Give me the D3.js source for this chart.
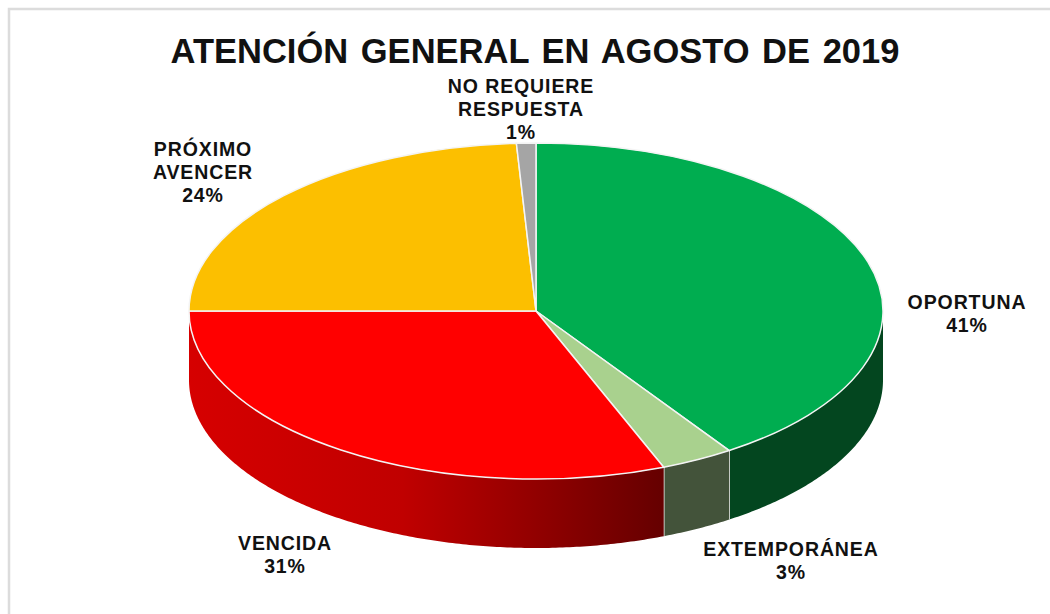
<!DOCTYPE html>
<html lang="es">
<head>
<meta charset="UTF-8">
<title>Atención general en agosto de 2019</title>
<style>
    html, body { margin: 0; padding: 0; background: #fff; }
    svg { display: block; }
    text { font-family: "Liberation Sans", Arial, sans-serif; font-weight: bold; fill: #111; }
</style>
</head>
<body>
<div id="container"></div>
<script src="https://d3js.org/d3.v7.min.js"></script>
<script>
var categories = ["OPORTUNA", "EXTEMPORÁNEA", "VENCIDA", "PRÓXIMO AVENCER", "NO REQUIERE RESPUESTA"];
// the labels show them rounded
var values = [40.6, 3.4, 31.0, 24.1, 0.9];
var topColors = ["#00ad50", "#a9d18e", "#ff0000", "#fcbf00", "#a5a5a5"];
var labelLines = [["OPORTUNA"], ["EXTEMPORÁNEA"], ["VENCIDA"], ["PRÓXIMO", "AVENCER"], ["NO REQUIERE", "RESPUESTA"]];
var labelAnchors = [[967, 302], [791, 549], [285, 543], [203, 149], [521, 86]];

var width = 1050, height = 614;
var cx = 536, cy = 311, rx = 347, ry = 168, depth = 69;

var svg = d3.select("#container").append("svg")
    .attr("width", width)
    .attr("height", height);

// thin frame of the pasted chart, only top and left show
svg.append("path")
    .attr("d", "M9 614V9H1050")
    .attr("fill", "none")
    .attr("stroke", "#dcdcdc")
    .attr("stroke-width", 2.5);

svg.append("text")
    .attr("x", 535)
    .attr("y", 63)
    .attr("text-anchor", "middle")
    .attr("font-size", 34.5)
    .attr("word-spacing", 3)
    .text("ATENCIÓN GENERAL EN AGOSTO DE 2019");

var pie = d3.pie().sort(null).value(function(d) { return d; });
var slices = pie(values);

// the ellipse: scales from unit circle to screen
var xScale = d3.scaleLinear().domain([-1, 1]).range([cx - rx, cx + rx]);
var yScale = d3.scaleLinear().domain([-1, 1]).range([cy - ry, cy + ry]);

function px(a) { return xScale(Math.sin(a)); }
function py(a) { return yScale(-Math.cos(a)); }

// gradients of the side wall, light at the left, dark at the right
var defs = svg.append("defs");
var red = defs.append("linearGradient")
    .attr("id", "wallRed")
    .attr("gradientUnits", "userSpaceOnUse")
    .attr("x1", xScale(-1)).attr("x2", px(slices[2].startAngle))
    .attr("y1", 0).attr("y2", 0);
red.append("stop").attr("offset", "0").attr("stop-color", "#d60000");
red.append("stop").attr("offset", "0.45").attr("stop-color", "#c00000");
red.append("stop").attr("offset", "1").attr("stop-color", "#650000");

var wallFill = ["#03461f", "#43533a", "url(#wallRed)", "#a37c00", "#6b6b6b"];

// side wall, only the front half of the ellipse is visible
var wall = svg.append("g");
slices.forEach(function(d, i) {
    var a0 = Math.max(d.startAngle, Math.PI / 2);
    var a1 = Math.min(d.endAngle, Math.PI * 1.5);
    if (a1 <= a0) return;
    var p = d3.path();
    var steps = d3.range(a0, a1, 0.01).concat([a1]);
    steps.forEach(function(a, k) {
        if (k === 0) p.moveTo(px(a), py(a));
        else p.lineTo(px(a), py(a));
    });
    steps.slice().reverse().forEach(function(a) {
        p.lineTo(px(a), py(a) + depth);
    });
    p.closePath();
    wall.append("path")
        .attr("d", p.toString())
        .attr("fill", wallFill[i])
        .attr("stroke", "none");
    if (a1 < Math.PI * 1.5) {
        wall.append("line")
            .attr("x1", px(a1)).attr("x2", px(a1))
            .attr("y1", py(a1)).attr("y2", py(a1) + depth)
            .attr("stroke", "#f2f2f2")
            .attr("stroke-width", 1.5);
    }
});

// top face, d3.arc on a circle squashed into the ellipse
var arc = d3.arc().innerRadius(0).outerRadius(rx);
svg.append("g")
    .attr("transform", "translate(" + cx + "," + cy + ") scale(1," + (ry / rx) + ")")
    .selectAll("path")
    .data(slices)
    .enter()
    .append("path")
    .attr("d", arc)
    .attr("fill", function(d, i) { return topColors[i]; })
    .attr("stroke", "#f4f4f4")
    .attr("stroke-width", 1.5)
    .attr("vector-effect", "non-scaling-stroke");

// labels
var lineHeight = 23;
var labels = svg.append("g")
    .attr("font-size", 19.5)
    .attr("letter-spacing", 0.9)
    .attr("text-anchor", "middle");
labels.selectAll("text")
    .data(slices)
    .enter()
    .append("text")
    .attr("aria-label", function(d, i) { return categories[i]; })
    .each(function(d, i) {
        var t = d3.select(this);
        var lines = labelLines[i].concat([Math.round(values[i]) + "%"]);
        lines.forEach(function(s, k) {
            t.append("tspan")
                .attr("x", labelAnchors[i][0])
                .attr("y", labelAnchors[i][1] + 7 + k * lineHeight)
                .text(s);
        });
    });
</script>
</body>
</html>
